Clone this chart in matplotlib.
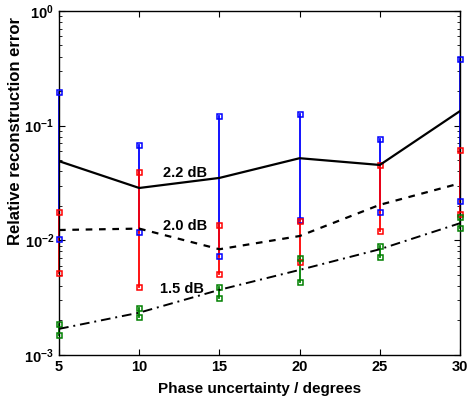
import numpy as np
import matplotlib
matplotlib.use('Agg')
import matplotlib.pyplot as plt

plt.rcParams['font.family'] = 'Liberation Sans'
plt.rcParams['font.weight'] = 'bold'
plt.rcParams['mathtext.fontset'] = 'custom'
plt.rcParams['mathtext.rm'] = 'Liberation Sans:bold'
plt.rcParams['mathtext.bf'] = 'Liberation Sans:bold'
plt.rcParams['mathtext.default'] = 'bf'

# phase uncertainty (degrees)
phase = [5, 10, 15, 20, 25, 30]

# mean error curves
err_22 = [0.049, 0.0286, 0.035, 0.052, 0.0454, 0.134]
err_20 = [0.0123, 0.01265, 0.00836, 0.0109, 0.0204, 0.0314]
err_15 = [0.00169, 0.00234, 0.0037, 0.00552, 0.00836, 0.0141]

# error bar ranges (low, high)
blue_lo = [0.0102, 0.0119, 0.00727, 0.0149, 0.0177, 0.0221]
blue_hi = [0.195, 0.0675, 0.122, 0.126, 0.077, 0.379]
red_lo = [0.00517, 0.00395, 0.0051, 0.00644, 0.012, 0.0168]
red_hi = [0.0176, 0.0395, 0.0136, 0.0148, 0.0454, 0.0618]
green_lo = [0.0015, 0.00213, 0.00317, 0.00436, 0.0071, 0.0128]
green_hi = [0.00186, 0.00257, 0.00395, 0.00707, 0.009, 0.0159]

fig = plt.figure(figsize=(4.74, 4.01), dpi=100)
ax = fig.add_axes([0.1245, 0.1147, 0.846, 0.858])

for lo, hi, c in [(blue_lo, blue_hi, '#0000ff'), (red_lo, red_hi, '#ff0000'), (green_lo, green_hi, '#008000')]:
    for x, a, b in zip(phase, lo, hi):
        ax.plot([x, x], [a, b], color=c, lw=1.3, zorder=2, clip_on=False)
        ax.plot([x, x], [a, b], ls='none', marker='s', ms=3.6, mfc='none', mec=c, mew=1.1, zorder=3, clip_on=False)

ax.plot(phase, err_22, color='k', lw=1.6, ls='-', zorder=4)
ax.plot(phase, err_20, color='k', lw=1.6, ls=(0, (3, 3)), zorder=4)
ax.plot(phase, err_15, color='k', lw=1.4, ls=(0, (5, 2.5, 1, 2.5)), zorder=4)

ax.text(12.86, 0.039, '2.2 dB', fontsize=10.5, fontweight='bold', ha='center', va='center')
ax.text(12.86, 0.0132, '2.0 dB', fontsize=10.5, fontweight='bold', ha='center', va='center')
ax.text(12.67, 0.00377, '1.5 dB', fontsize=10.5, fontweight='bold', ha='center', va='center')

ax.set_yscale('log')
ax.set_xlim(5, 30)
ax.set_ylim(1e-3, 1)
ax.set_xticks(phase)
ax.set_yticks([1e-3, 1e-2, 1e-1, 1])
ax.set_yticklabels([r'$10^{-3}$', r'$10^{-2}$', r'$10^{-1}$', r'$10^{0}$'])
ax.tick_params(which='both', direction='in', top=True, right=True, labelsize=10.5)
ax.tick_params(which='major', length=4)
ax.tick_params(which='minor', length=2)
for lab in ax.get_xticklabels():
    lab.set_fontweight('bold')
for s in ax.spines.values():
    s.set_linewidth(1.0)

ax.set_xlabel('Phase uncertainty / degrees', fontsize=11, fontweight='bold', labelpad=6)
ax.set_ylabel('Relative reconstruction error', fontsize=12, fontweight='bold')
ax.yaxis.set_label_coords(-0.09, 0.65)

fig.savefig('out.png', dpi=100)
